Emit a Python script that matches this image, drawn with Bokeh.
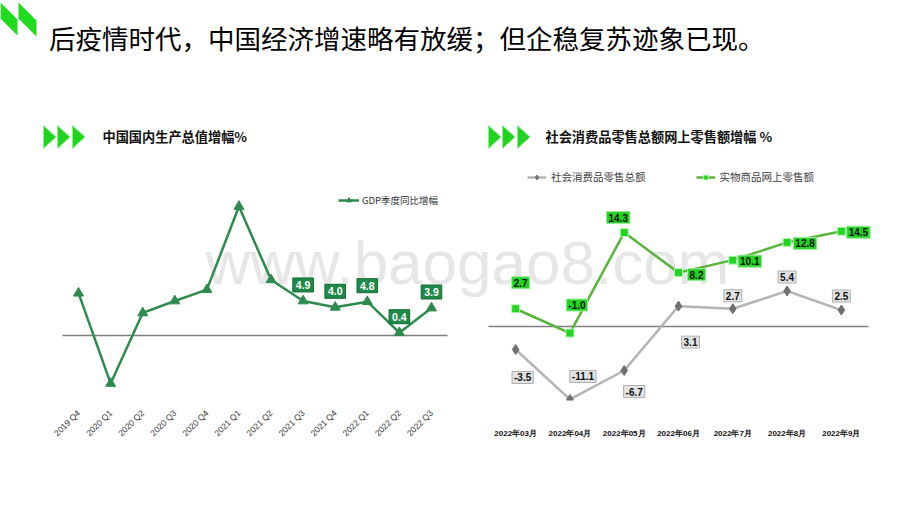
from math import pi
from bokeh.plotting import figure
from bokeh.models import (Range1d, Legend, LegendItem, ColumnDataSource, LinearAxis,
                          FixedTicker)
from bokeh.core.properties import value
from bokeh.embed import file_html
from bokeh.resources import INLINE

# ---------------- data ----------------
title_text = "后疫情时代，中国经济增速略有放缓；但企稳复苏迹象已现。"
left_title = "中国国内生产总值增幅%"
right_title = "社会消费品零售总额网上零售额增幅 %"
watermark = "www.baogao8.com"

quarters = ["2019 Q4", "2020 Q1", "2020 Q2", "2020 Q3", "2020 Q4", "2021 Q1",
            "2021 Q2", "2021 Q3", "2021 Q4", "2022 Q1", "2022 Q2", "2022 Q3"]
gdp = [6.0, -6.8, 3.2, 4.9, 6.5, 18.3, 7.9, 4.9, 4.0, 4.8, 0.4, 3.9]
gdp_name = "GDP季度同比增幅"
gdp_labelled_from = 7  # value labels shown for the last five quarters

months = ["2022年03月", "2022年04月", "2022年05月", "2022年06月",
          "2022年7月", "2022年8月", "2022年9月"]
retail_total = [-3.5, -11.1, -6.7, 3.1, 2.7, 5.4, 2.5]
online_goods = [2.7, -1.0, 14.3, 8.2, 10.1, 12.8, 14.5]
retail_name = "社会消费品零售总额"
online_name = "实物商品网上零售额"

# value-label placement (screen px offsets relative to each point)
online_dx = [5, 7, -6, 18, 17, 18, 17]
online_dy = [-26, -28, -15, 2, 1, 1, 1]
retail_dx = [7, 13, 10, 12, 0, 0, 0]
retail_dy = [28, -23, 21, 36, -13, -14, -14]

# ---------------- page geometry (px) ----------------
W, H = 904, 502
FRAME_H = 400                  # frame covers canvas y 0..400; axes below


def cat_range(n, left_px, right_px):
    step = (right_px - left_px) / n
    first = left_px + step / 2
    return Range1d(-first / step, (W - first) / step)


def val_range(zero_px, px_per_unit):
    return Range1d(-(FRAME_H - zero_px) / px_per_unit, zero_px / px_per_unit)


# ---------------- styles ----------------
CJK = value("Noto Sans CJK SC")
LAT = value("Liberation Sans")
BRIGHT = "#22d322"
DARK_GREEN = "#2e8b50"
LABEL_DARK = "#1f8a48"
ONLINE_LINE = "#58b43a"
GRAY_LINE = "#b4b4b4"
GRAY_MARK = "#707070"

p = figure(width=W, height=H, x_range=Range1d(0, W), y_range=Range1d(FRAME_H, 0),
           toolbar_location=None, output_backend="svg", x_axis_type=None,
           y_axis_type=None, min_border_left=0, min_border_right=0, min_border_top=0,
           min_border_bottom=H - FRAME_H)
p.grid.visible = False
p.outline_line_color = None
p.background_fill_color = "white"
p.border_fill_color = "white"
p.extra_x_ranges = {"lq": cat_range(len(quarters), 62, 447),
                    "rm": cat_range(len(months), 488, 868)}
p.extra_y_ranges = {"lv": val_range(335, 7.05), "rv": val_range(326, 6.57)}

# ---------------- header decorations ----------------
p.text(x=[205], y=[262], text=[watermark], text_font=LAT, text_font_size="62px",
       text_color="#e6e6e6", text_baseline="alphabetic", text_align="left")
p.patches(xs=[[0, 17, 17, 0], [18, 36, 36, 18]],
          ys=[[2, 19, 35, 18], [2, 20, 36, 18]],
          fill_color="#1fdc1f", line_color=None)
p.text(x=[48.5], y=[36.5], text=[title_text], text_font=CJK, text_font_size="26.5px",
       text_baseline="middle", text_align="left", text_color="#000000")
tri_x, tri_y = [], []
for x0 in [43, 57, 72, 488, 502, 517]:
    tri_x.append([x0, x0 + 12.5, x0])
    tri_y.append([125, 136.5, 148])
p.patches(xs=tri_x, ys=tri_y, fill_color=BRIGHT, line_color="#8ef08e", line_width=1)
p.text(x=[102, 545], y=[136, 136], text=[left_title, right_title], text_font=CJK,
       text_font_size="13.2px", text_font_style="bold", text_baseline="middle",
       text_align="left", text_color="#111111")

# ---------------- left chart ----------------
qx = list(range(len(quarters)))
p.line(x=[-0.5, len(quarters) - 0.5], y=[0, 0], x_range_name="lq", y_range_name="lv",
       line_color="#808080", line_width=1.5)
gl = p.line(qx, gdp, x_range_name="lq", y_range_name="lv", line_color=DARK_GREEN,
            line_width=2.5)
gm = p.scatter(qx, gdp, x_range_name="lq", y_range_name="lv", marker="triangle",
               size=10, color=DARK_GREEN)
lab_src = ColumnDataSource(dict(x=qx[gdp_labelled_from:], y=gdp[gdp_labelled_from:],
                                t=["%.1f" % v for v in gdp[gdp_labelled_from:]]))
p.text(x="x", y="y", text="t", source=lab_src, x_range_name="lq", y_range_name="lv",
       y_offset=-16, text_align="center", text_baseline="middle", text_font=LAT,
       text_font_size="10.5px", text_font_style="bold", text_color="white",
       background_fill_color=LABEL_DARK, border_line_color="#156b35", padding=3)

axl = LinearAxis(x_range_name="lq", ticker=FixedTicker(ticks=qx),
                 major_label_overrides={i: q for i, q in zip(qx, quarters)})
axl.axis_line_color = None
axl.major_tick_line_color = None
axl.minor_tick_line_color = None
axl.major_label_orientation = pi / 4
axl.major_label_text_font = "Liberation Sans"
axl.major_label_text_font_size = "8.5px"
axl.major_label_text_color = "#333333"
axl.major_label_standoff = 5
p.add_layout(axl, "below")

# ---------------- right chart ----------------
mx = list(range(len(months)))
p.line(x=[-0.5, len(months) - 0.5], y=[0, 0], x_range_name="rm", y_range_name="rv",
       line_color="#808080", line_width=1.5)
tl = p.line(mx, retail_total, x_range_name="rm", y_range_name="rv", line_color=GRAY_LINE,
            line_width=2.5)
tm = p.scatter(mx, retail_total, x_range_name="rm", y_range_name="rv", marker="diamond",
               size=10, color=GRAY_MARK)
ol = p.line(mx, online_goods, x_range_name="rm", y_range_name="rv",
            line_color=ONLINE_LINE, line_width=2.5)
om = p.scatter(mx, online_goods, x_range_name="rm", y_range_name="rv", marker="square",
               size=8, fill_color=BRIGHT, line_color="#b8f5b8", line_width=1)

t_src = ColumnDataSource(dict(x=mx, y=retail_total, t=["%.1f" % v for v in retail_total],
                              dx=retail_dx, dy=retail_dy))
o_src = ColumnDataSource(dict(x=mx, y=online_goods, t=["%.1f" % v for v in online_goods],
                              dx=online_dx, dy=online_dy))
p.text(x="x", y="y", text="t", source=t_src, x_range_name="rm", y_range_name="rv",
       x_offset="dx", y_offset="dy", text_align="center", text_baseline="middle",
       text_font=LAT, text_font_size="10px", text_font_style="bold", text_color="#111111",
       background_fill_color="#e2e2e2", border_line_color="#b0b0b0", padding=2)
p.text(x="x", y="y", text="t", source=o_src, x_range_name="rm", y_range_name="rv",
       x_offset="dx", y_offset="dy", text_align="center", text_baseline="middle",
       text_font=LAT, text_font_size="10px", text_font_style="bold", text_color="#111111",
       background_fill_color=BRIGHT, border_line_color="#9eea9e", padding=2)

axr = LinearAxis(x_range_name="rm", ticker=FixedTicker(ticks=mx),
                 major_label_overrides={i: m for i, m in zip(mx, months)})
axr.axis_line_color = None
axr.major_tick_line_color = None
axr.minor_tick_line_color = None
axr.major_label_text_font = "Liberation Sans"
axr.major_label_text_font_size = "8px"
axr.major_label_text_font_style = "bold"
axr.major_label_text_color = "#111111"
axr.major_label_standoff = -22
p.add_layout(axr, "below")

# ---------------- legends ----------------
leg = Legend(items=[LegendItem(label=gdp_name, renderers=[gl, gm])], location=(338, 193),
             padding=0, margin=0, spacing=0, glyph_width=21, glyph_height=12,
             label_height=12, label_standoff=3, border_line_color=None,
             background_fill_alpha=0, label_text_font="Noto Sans CJK SC",
             label_text_font_size="9.5px", label_text_color="#333333")
p.add_layout(leg)
rleg = Legend(items=[LegendItem(label=retail_name, renderers=[tl, tm]),
                     LegendItem(label=online_name, renderers=[ol, om])],
              location=(527, 216), orientation="horizontal", padding=0, margin=0, spacing=50,
              glyph_width=19, glyph_height=12, label_height=12, label_standoff=5,
              border_line_color=None, background_fill_alpha=0,
              label_text_font="Noto Sans CJK SC", label_text_font_size="10.5px",
              label_text_color="#404040")
p.add_layout(rleg)

open("out.html", "w").write(file_html(p, INLINE))
